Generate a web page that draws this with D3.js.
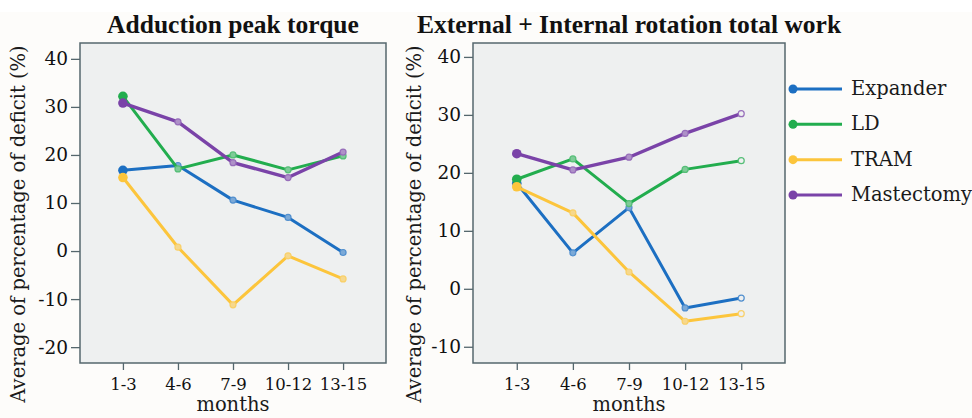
<!DOCTYPE html>
<html>
<head>
<meta charset="utf-8">
<script src="https://cdn.jsdelivr.net/npm/d3@7"></script>
<style>
  html, body { margin: 0; padding: 0; background: #fdfcfa; }
  svg { display: block; }
</style>
</head>
<body>
<svg id="chart" width="972" height="418"></svg>
<script>
// 数据
const months = ["1-3", "4-6", "7-9", "10-12", "13-15"];
const groups = ["Expander", "LD", "TRAM", "Mastectomy"];
const groupColors = ["#1c6fc2", "#22ad4e", "#fcc53c", "#7a43a8"];

// Adduction peak torque
const adductionExpander = [16.8, 17.8, 10.6, 7.0, -0.3];
const adductionLD = [32.2, 17.1, 20.0, 16.9, 19.8];
const adductionTRAM = [15.3, 0.8, -11.2, -1.0, -5.8];
const adductionMastectomy = [30.8, 26.9, 18.4, 15.3, 20.6];

// External + Internal rotation total work
const rotationExpander = [18.2, 6.2, 14.0, -3.3, -1.6];
const rotationLD = [18.9, 22.4, 14.7, 20.6, 22.1];
const rotationTRAM = [17.6, 13.1, 2.9, -5.6, -4.3];
const rotationMastectomy = [23.3, 20.5, 22.7, 26.8, 30.2];

const leftTicks = [-20, -10, 0, 10, 20, 30, 40];
const rightTicks = [-10, 0, 10, 20, 30, 40];

const svg = d3.select("#chart");
const serif = "'DejaVu Serif', serif";

svg.append("rect").attr("width", 972).attr("height", 12).attr("fill", "#ffffff");

/**
 * 画一个面板
 */
function drawPanel(cfg) {
    const x = d3.scalePoint().domain(months).range([cfg.x0, cfg.x1]).padding(0.78);
    const y = d3.scaleLinear().domain(cfg.yDomain).range([cfg.y1, cfg.y0]);

    const g = svg.append("g");

    g.append("rect")
        .attr("x", cfg.x0).attr("y", cfg.y0)
        .attr("width", cfg.x1 - cfg.x0).attr("height", cfg.y1 - cfg.y0)
        .attr("fill", "#eef0f0")
        .attr("stroke", "#55676d")
        .attr("stroke-width", 1.5);

    // 坐标轴
    const yAxis = g.append("g")
        .attr("transform", `translate(${cfg.x0},0)`)
        .call(d3.axisLeft(y).tickValues(cfg.ticks).tickFormat(d => String(d)).tickSize(9).tickPadding(3));
    const xAxis = g.append("g")
        .attr("transform", `translate(0,${cfg.y1})`)
        .call(d3.axisBottom(x).tickSize(7).tickPadding(8));
    [xAxis, yAxis].forEach(ax => {
        ax.select(".domain").remove();
        ax.selectAll(".tick line").attr("stroke", "#55676d").attr("stroke-width", 1.3);
        ax.selectAll(".tick text")
            .attr("fill", "#111")
            .style("font-family", serif)
            .style("font-size", ax === yAxis ? "18.5px" : "16.5px");
    });

    // 标题
    g.append("text")
        .attr("x", (cfg.x0 + cfg.x1) / 2).attr("y", 33)
        .attr("text-anchor", "middle")
        .style("font-family", "'Liberation Serif', serif")
        .style("font-weight", "bold")
        .style("font-size", "25.5px")
        .attr("fill", "#111")
        .text(cfg.title);

    g.append("text")
        .attr("transform", `translate(${cfg.labelX},${(cfg.y0 + cfg.y1) / 2 + 21}) rotate(-90)`)
        .attr("text-anchor", "middle")
        .style("font-family", serif)
        .style("font-size", "19.5px")
        .attr("fill", "#1a1a1a")
        .text("Average of percentage of deficit (%)");

    g.append("text")
        .attr("x", (cfg.x0 + cfg.x1) / 2).attr("y", 411)
        .attr("text-anchor", "middle")
        .style("font-family", serif)
        .style("font-size", "19.5px")
        .attr("fill", "#1a1a1a")
        .text("months");

    const line = d3.line().x((d, i) => x(months[i])).y(d => y(d));

    cfg.series.forEach((vals, si) => {
        const color = groupColors[si];
        g.append("path")
            .datum(vals)
            .attr("d", line)
            .attr("fill", "none")
            .attr("stroke", color)
            .attr("stroke-width", si === 3 ? 3.4 : 3)
            .attr("stroke-linejoin", "round");

        g.selectAll(null)
            .data(vals)
            .enter()
            .append("circle")
            .attr("cx", (d, i) => x(months[i]))
            .attr("cy", d => y(d))
            .attr("r", (d, i) => i === 0 ? 4.8 : 3)
            .attr("fill", (d, i) => i === 0 ? color : (i === 4 && cfg.openLast ? "#eef0f0" : d3.interpolateRgb(color, "#eef0f0")(0.45)))
            .attr("stroke", (d, i) => i === 0 ? "none" : d3.interpolateRgb(color, "#eef0f0")(0.25))
            .attr("stroke-width", 1.2);
    });
}

drawPanel({
    x0: 80, x1: 386, y0: 43, y1: 363,
    yDomain: [-23.3, 43.3], ticks: leftTicks,
    labelX: 25,
    title: "Adduction peak torque",
    series: [adductionExpander, adductionLD, adductionTRAM, adductionMastectomy],
    openLast: false
});

drawPanel({
    x0: 473, x1: 785, y0: 43, y1: 363,
    yDomain: [-12.8, 42.4], ticks: rightTicks,
    labelX: 421,
    title: "External + Internal rotation total work",
    series: [rotationExpander, rotationLD, rotationTRAM, rotationMastectomy],
    openLast: true
});

// 图例
const legend = svg.append("g");
const legendY = d3.scalePoint().domain(groups).range([89, 195]);
groups.forEach((name, i) => {
    const yy = legendY(name);
    legend.append("line")
        .attr("x1", 793).attr("x2", 842).attr("y1", yy).attr("y2", yy)
        .attr("stroke", groupColors[i]).attr("stroke-width", 3);
    legend.append("circle")
        .attr("cx", 793).attr("cy", yy).attr("r", 4.5)
        .attr("fill", groupColors[i]);
    legend.append("text")
        .attr("x", 851).attr("y", yy + 6)
        .style("font-family", serif)
        .style("font-size", "19.5px")
        .attr("fill", "#1a1a1a")
        .text(name);
});
</script>
</body>
</html>
